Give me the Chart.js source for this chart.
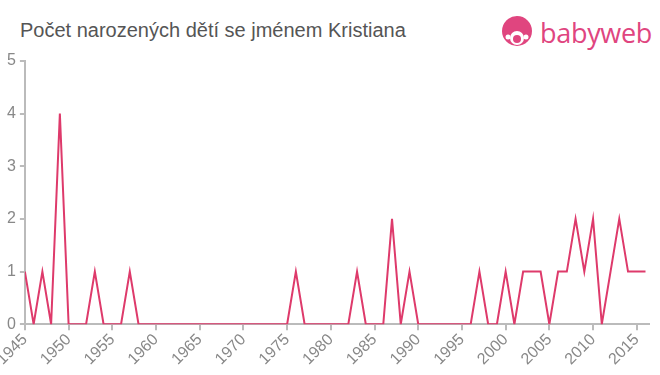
<!DOCTYPE html>
<html><head><meta charset="utf-8">
<script src="https://cdn.jsdelivr.net/npm/chart.js@4/dist/chart.umd.min.js"></script>
<style>
html,body{margin:0;padding:0;background:#fff;width:660px;height:375px;overflow:hidden;position:relative;}
#title{position:absolute;left:20px;top:19px;font-family:"Liberation Sans",Arial,sans-serif;font-size:20px;line-height:23px;color:#555;white-space:nowrap;}
#logo{position:absolute;left:500px;top:14px;height:36px;display:flex;align-items:center;}
#logo span{font-family:"Open Sans",Lato,sans-serif;font-size:27px;color:#e0457f;margin-left:6px;letter-spacing:-0.3px;font-weight:400;}
#wrap{position:absolute;left:0;top:0;width:660px;height:375px;}
</style></head><body>
<div id="title">Počet narozených dětí se jménem Kristiana</div>
<div id="logo">
<svg width="34" height="34" viewBox="0 0 34 34">
<circle cx="17" cy="16" r="15" fill="#e0457f"/>
<circle cx="17" cy="23" r="7" fill="#fff"/>
<circle cx="17" cy="24" r="4" fill="#e0457f"/>
<circle cx="8" cy="22" r="2.5" fill="#fff"/>
<circle cx="26" cy="22" r="2.5" fill="#fff"/>
</svg>
<span>babyweb</span></div>
<div id="wrap"><canvas id="c" width="660" height="375"></canvas></div>
<script>
const years = [];
for (let y = 1945; y <= 2016; y++) years.push(y);
const counts = [
 1,0,1,0,4,0,0,0,1,0, // 1945-1954
 0,0,1,0,0,0,0,0,0,0, // 1955-1964
 0,0,0,0,0,0,0,0,0,0, // 1965-1974
 0,1,0,0,0,0,0,0,1,0, // 1975-1984
 0,0,2,0,1,0,0,0,0,0, // 1985-1994
 0,0,1,0,0,1,0,1,1,1, // 1995-2004
 0,1,1,2,1,2,0,1,2,1, // 2005-2014
 1,1                  // 2015-2016
];
const yTicks = [0,1,2,3,4,5];
const points = years.map((y,i)=>({x:y,y:counts[i]}));
const axisColor = '#bbbbbb';
const tickFont = {family:'"Liberation Sans", Arial, sans-serif', size:16};
new Chart(document.getElementById('c'), {
  type:'line',
  data:{datasets:[{data:points,borderColor:'#de3a6b',borderWidth:2,pointRadius:0,tension:0,fill:false}]},
  options:{
    animation:false,responsive:false,
    layout:{padding:{top:61,right:11,left:3,bottom:6}},
    plugins:{legend:{display:false},tooltip:{enabled:false}},
    scales:{
      x:{type:'linear',min:1945,max:2016.4,
        grid:{drawOnChartArea:false,drawTicks:true,tickLength:6,color:axisColor,lineWidth:2},
        border:{color:axisColor,width:2},
        ticks:{stepSize:5,includeBounds:false,minRotation:45,maxRotation:45,color:'#888',font:tickFont,padding:0,
          callback:v=>String(v)},
        afterFit:s=>{s.paddingLeft=0;}
      },
      y:{min:0,max:5,
        afterBuildTicks:s=>{s.ticks=yTicks.map(v=>({value:v}));},
        grid:{drawOnChartArea:false,drawTicks:true,tickLength:5,color:axisColor,lineWidth:2},
        border:{color:axisColor,width:2},
        ticks:{color:'#888',font:tickFont,padding:4}
      }
    }
  }
});
</script>
</body></html>
